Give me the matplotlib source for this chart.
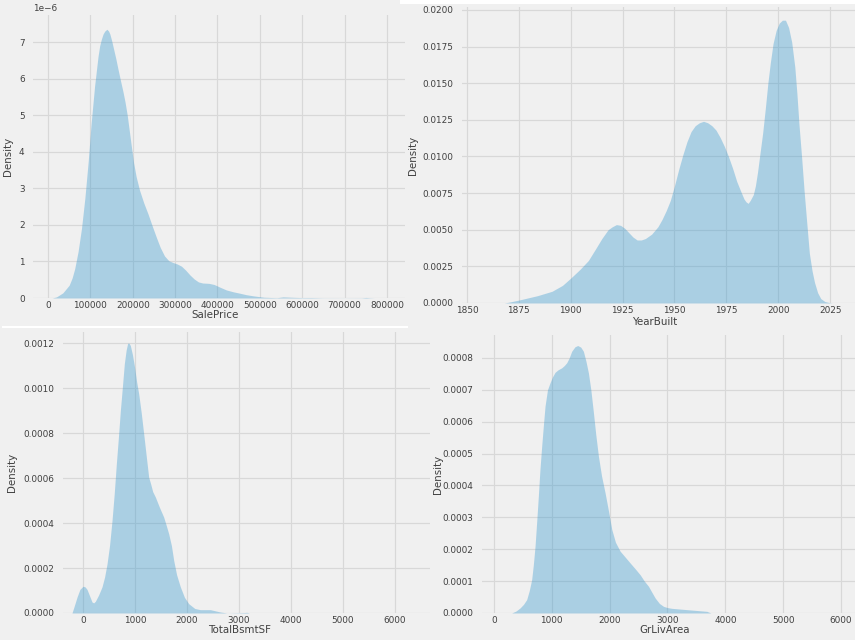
import numpy as np
import matplotlib
matplotlib.use('Agg')
import matplotlib.pyplot as plt
from matplotlib.ticker import FormatStrFormatter

# SalePrice density (values in units of 1e-6)
sale_x = [10000, 20000, 35000, 50000, 57000, 63000, 71000, 79000, 87000, 95000,
          102000, 110000, 118000, 122000, 126000, 130000, 134000, 139000,
          143000, 146000, 150000, 154000, 160000, 165000, 171000, 177000,
          182000, 187000, 191000, 195000, 199000, 202000, 208000, 216000,
          226000, 236000, 246000, 256000, 265000, 275000, 285000, 295000,
          305000, 315000, 325000, 335000, 345000, 355000, 365000, 380000,
          392000, 405000, 421000, 437000, 453000, 468000, 484000, 497000,
          510000, 540000, 555000, 575000, 600000, 620000, 650000, 700000,
          740000, 750000, 760000, 770000]
sale_d = np.array([0.0, 0.03, 0.14, 0.35, 0.55, 0.8, 1.27, 1.9, 2.73, 3.75,
                   4.8, 5.8, 6.6, 6.9, 7.08, 7.22, 7.3, 7.35,
                   7.3, 7.22, 7.05, 6.85, 6.55, 6.27, 5.95, 5.64,
                   5.35, 5.0, 4.65, 4.3, 3.95, 3.7, 3.32, 2.95,
                   2.6, 2.3, 1.97, 1.65, 1.38, 1.15, 1.02, 0.97,
                   0.93, 0.87, 0.76, 0.63, 0.52, 0.44, 0.41, 0.4,
                   0.37, 0.3, 0.22, 0.17, 0.13, 0.09, 0.06, 0.04,
                   0.02, 0.008, 0.03, 0.02, 0.01, 0.012, 0.003, 0.002,
                   0.004, 0.015, 0.006, 0.0]) * 1e-6

# YearBuilt density
year_x = [1868, 1870, 1875, 1884, 1891, 1896, 1900, 1904.5, 1908.5, 1912, 1915,
          1918, 1920, 1922, 1924, 1926, 1928, 1930, 1932, 1934, 1936, 1939,
          1942, 1944, 1946, 1948, 1950, 1952, 1954, 1956, 1958, 1960, 1962,
          1964, 1966, 1968, 1970, 1972, 1974, 1976, 1978, 1980, 1982, 1983.5,
          1984.5, 1985.5, 1986.5, 1988, 1989, 1990, 1991.2, 1992.5, 1993.8,
          1995, 1996.2, 1997.5, 1999, 2000.5, 2002, 2003.5, 2005, 2006.5,
          2008, 2009, 2010, 2011.3, 2012.5, 2013.8, 2015, 2016.3, 2017.5,
          2019, 2020.5, 2022.5, 2024.5, 2026]
year_d = [0.0, 0.00005, 0.0002, 0.0005, 0.0008, 0.0012, 0.0017, 0.0023, 0.0029,
          0.0037, 0.0044, 0.005, 0.0052, 0.00535, 0.0053, 0.0051, 0.0048,
          0.0045, 0.0043, 0.0043, 0.0044, 0.0047, 0.0052, 0.0057, 0.0063,
          0.0070, 0.0080, 0.0091, 0.0101, 0.0110, 0.0117, 0.0121, 0.0123,
          0.0124, 0.0123, 0.0121, 0.0118, 0.0113, 0.0107, 0.0100, 0.0092,
          0.0083, 0.0076, 0.0071, 0.0069, 0.0068, 0.0070, 0.0074, 0.0080,
          0.0089, 0.0102, 0.0116, 0.0133, 0.0150, 0.0164, 0.0177, 0.0186,
          0.0191, 0.0193, 0.0193, 0.0188, 0.0178, 0.0161, 0.0143, 0.0122,
          0.0099, 0.0076, 0.0054, 0.0034, 0.0022, 0.0014, 0.0007, 0.0003,
          0.0001, 0.00003, 0.0]

# TotalBsmtSF density
bsmt_x = [-212, -170, -115, -60, 0, 40, 77, 120, 173, 205, 237, 300, 365, 415,
          462, 510, 558, 600, 641, 680, 718, 755, 795, 830, 859, 885, 910, 950,
          994, 1030, 1071, 1120, 1167, 1215, 1263, 1300, 1340, 1391, 1470,
          1551, 1600, 1647, 1700, 1744, 1800, 1872, 1950, 2032, 2150, 2256,
          2449, 2641, 2770, 3100, 3150, 3200]
bsmt_d = [0.0, 0.00003, 0.000071, 0.000105, 0.000119, 0.000116, 0.000105,
          0.00008, 0.000049, 0.000045, 0.000052, 0.00008, 0.000116, 0.00016,
          0.000219, 0.0003, 0.000412, 0.00053, 0.000664, 0.00078, 0.0009,
          0.001, 0.00111, 0.00117, 0.0012, 0.0012, 0.00119, 0.00115,
          0.00109, 0.00103, 0.000975, 0.00089, 0.000797, 0.0007, 0.000604,
          0.000575, 0.00054, 0.000516, 0.00047, 0.000427, 0.00039, 0.000353,
          0.0003, 0.000234, 0.00017, 0.000116, 0.00007, 0.0000415, 0.00002,
          0.0000148, 0.0000148, 0.0000044, 0.0, 0.000002, 0.000003, 0.0]

# GrLivArea density
liv_x = [306, 380, 450, 510, 565, 610, 652, 680, 710, 740, 767, 795, 825, 855,
         883, 925, 969, 1010, 1056, 1110, 1171, 1215, 1258, 1300, 1344, 1400,
         1448, 1500, 1546, 1590, 1633, 1675, 1720, 1760, 1806, 1860, 1921,
         1980, 2037, 2100, 2181, 2270, 2354, 2440, 2527, 2600, 2672, 2730,
         2787, 2860, 2931, 3000, 3076, 3335, 3681, 3750]
liv_d = [0.0, 0.000006, 0.0000157, 0.000027, 0.0000418, 0.00007, 0.000105,
         0.00015, 0.000209, 0.00029, 0.000366, 0.00045, 0.000523, 0.00059,
         0.000649, 0.0007, 0.000722, 0.00074, 0.000755, 0.000763, 0.000769,
         0.000776, 0.000785, 0.0008, 0.000821, 0.000835, 0.000839, 0.000834,
         0.000821, 0.00079, 0.000753, 0.0007, 0.000628, 0.00056, 0.000492,
         0.00043, 0.000377, 0.00032, 0.000262, 0.000222, 0.000194, 0.000175,
         0.000157, 0.000139, 0.00012, 0.0001, 0.0000837, 0.000065, 0.000047,
         0.00003, 0.0000209, 0.000017, 0.0000146, 0.0000105, 0.0000052, 0.0]

bg = '#f0f0f0'
fill_color = '#3a9ad0'
text_color = '#404040'

W, H = 855, 640
fig = plt.figure(figsize=(8.55, 6.4), dpi=100, facecolor=bg)


def make_axes(left, top, right, bottom):
    ax = fig.add_axes([left / W, 1 - bottom / H, (right - left) / W, (bottom - top) / H])
    ax.set_facecolor(bg)
    for s in ax.spines.values():
        s.set_visible(False)
    ax.set_axisbelow(True)
    ax.grid(True, color='#d8d8d8', linewidth=0.85)
    ax.tick_params(length=0, labelsize=6.4, labelcolor=text_color)
    ax.tick_params(axis='x', pad=2.5)
    ax.tick_params(axis='y', pad=6)
    ax.yaxis.get_offset_text().set_fontsize(6.4)
    ax.yaxis.get_offset_text().set_color(text_color)
    return ax


def finish(ax, xlabel, xl, yl):
    ax.set_xlabel(xlabel, fontsize=7.4, color=text_color)
    ax.set_ylabel('Density', fontsize=7.4, color=text_color)
    ax.xaxis.set_label_coords(*xl)
    ax.yaxis.set_label_coords(*yl)
    ax.xaxis.label.set_va('center')
    ax.yaxis.label.set_va('center')


# SalePrice
ax1 = make_axes(33, 15, 405, 298)
ax1.fill_between(sale_x, sale_d, color=fill_color, alpha=0.38, linewidth=0)
ax1.set_xlim(-35400, 842500)
ax1.set_ylim(0, 7.74e-6)
ax1.set_xticks(np.arange(0, 800001, 100000))
ax1.set_yticks(np.arange(0, 8e-6, 1e-6))
finish(ax1, 'SalePrice', (0.489, -0.06), (-0.067, 0.5))

# YearBuilt
ax2 = make_axes(462, 7, 855, 303)
ax2.fill_between(year_x, year_d, color=fill_color, alpha=0.38, linewidth=0)
ax2.set_xlim(1847.6, 2037)
ax2.set_ylim(0, 0.0202)
ax2.set_xticks(np.arange(1850, 2026, 25))
ax2.set_yticks(np.arange(0, 0.02001, 0.0025))
ax2.yaxis.set_major_formatter(FormatStrFormatter('%.4f'))
finish(ax2, 'YearBuilt', (0.491, -0.064), (-0.125, 0.5))

# TotalBsmtSF
ax3 = make_axes(63, 332, 430, 613)
ax3.fill_between(bsmt_x, bsmt_d, color=fill_color, alpha=0.38, linewidth=0)
ax3.set_xlim(-385, 6673)
ax3.set_ylim(0, 0.00125)
ax3.set_xticks(np.arange(0, 6001, 1000))
ax3.set_yticks(np.arange(0, 0.00121, 0.0002))
ax3.yaxis.set_major_formatter(FormatStrFormatter('%.4f'))
finish(ax3, 'TotalBsmtSF', (0.482, -0.06), (-0.139, 0.5))

# GrLivArea
ax4 = make_axes(482, 335, 855, 613)
ax4.fill_between(liv_x, liv_d, color=fill_color, alpha=0.38, linewidth=0)
ax4.set_xlim(-207, 6242)
ax4.set_ylim(0, 0.000872)
ax4.set_xticks(np.arange(0, 6001, 1000))
ax4.set_yticks(np.arange(0, 0.00081, 0.0001))
ax4.yaxis.set_major_formatter(FormatStrFormatter('%.4f'))
finish(ax4, 'GrLivArea', (0.49, -0.061), (-0.118, 0.5))

# white seams of the collage
fig.add_artist(plt.Line2D([3 / W, 407 / W], [1 - 327 / H, 1 - 327 / H],
                          color='white', linewidth=1.5))
fig.add_artist(plt.Rectangle((400 / W, 1 - 4 / H), 455 / W, 4 / H,
                             color='white', linewidth=0))

fig.savefig('out.png', dpi=100, facecolor=bg)
